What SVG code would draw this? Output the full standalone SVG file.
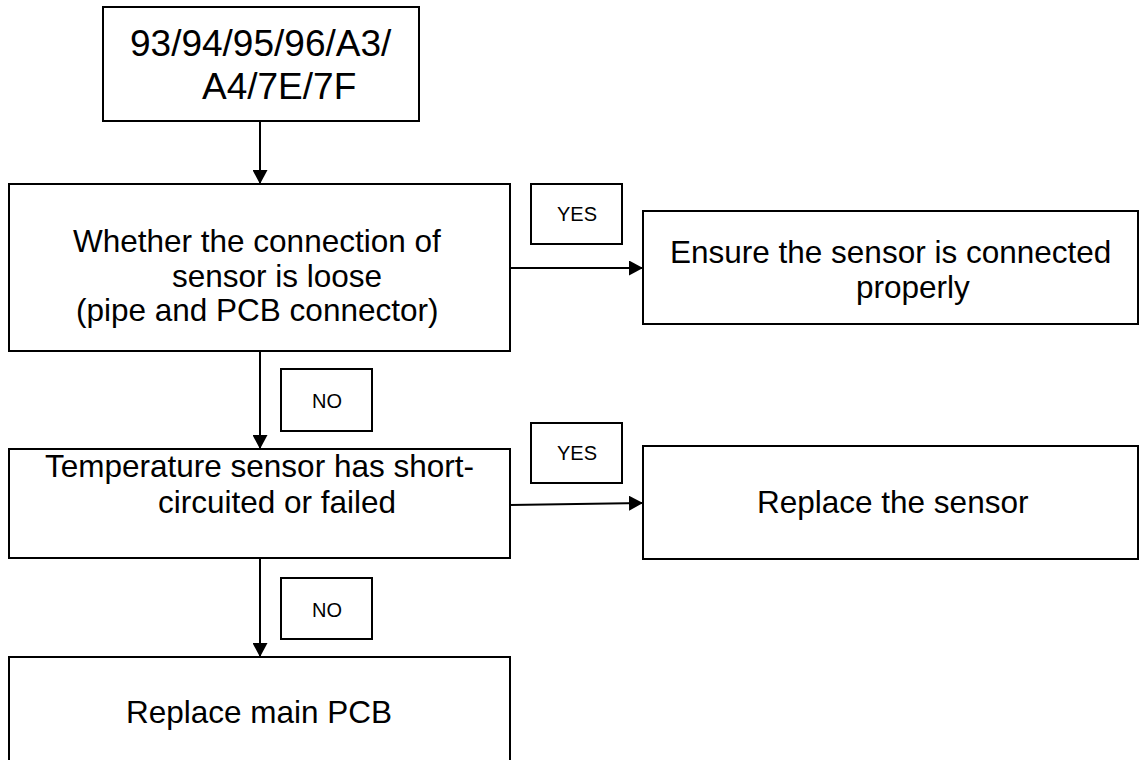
<svg xmlns="http://www.w3.org/2000/svg" width="1139" height="760" viewBox="0 0 1139 760">
<defs>
<style>
.box{fill:#fff;stroke:#000;stroke-width:2}
.t{font-family:"Liberation Sans",Arial,sans-serif;fill:#000}
.big{font-size:37px}
.body{font-size:31.5px}
.lbl{font-size:20px;text-anchor:middle}
.con{stroke:#000;stroke-width:2;fill:none}
</style>
<marker id="arr" markerUnits="userSpaceOnUse" markerWidth="15" markerHeight="15" refX="14" refY="7.5" orient="auto">
<path d="M0,0 L14,7.5 L0,15 Z" fill="#000"/>
</marker>
</defs>
<rect width="1139" height="760" fill="#fff"/>
<g id="connectors">
<line class="con" x1="260" y1="121" x2="260" y2="184" marker-end="url(#arr)"/>
<line class="con" x1="510" y1="268" x2="643" y2="268" marker-end="url(#arr)"/>
<line class="con" x1="260" y1="351" x2="260" y2="449" marker-end="url(#arr)"/>
<line class="con" x1="510" y1="505" x2="643" y2="503" marker-end="url(#arr)"/>
<line class="con" x1="260" y1="558" x2="260" y2="657" marker-end="url(#arr)"/>
</g>
<g id="start">
<rect class="box" x="103" y="7" width="316" height="114"/>
<text class="t big" x="130" y="56">93/94/95/96/A3/</text>
<text class="t big" x="202" y="99">A4/7E/7F</text>
</g>
<g id="check-connection">
<rect class="box" x="9" y="184" width="501" height="167"/>
<text class="t body" x="73" y="252">Whether the connection of</text>
<text class="t body" x="172" y="287">sensor is loose</text>
<text class="t body" x="76" y="321">(pipe and PCB connector)</text>
</g>
<g id="yes1">
<rect class="box" x="531" y="184" width="91" height="60"/>
<text class="t lbl" x="577" y="221">YES</text>
</g>
<g id="ensure-connected">
<rect class="box" x="643" y="211" width="495" height="113"/>
<text class="t body" x="670" y="263">Ensure the sensor is connected</text>
<text class="t body" x="856" y="298">properly</text>
</g>
<g id="no1">
<rect class="box" x="281" y="369" width="91" height="62"/>
<text class="t lbl" x="327" y="408">NO</text>
</g>
<g id="check-sensor">
<rect class="box" x="9" y="449" width="501" height="109"/>
<text class="t body" x="45" y="477">Temperature sensor has short-</text>
<text class="t body" x="158" y="513">circuited or failed</text>
</g>
<g id="yes2">
<rect class="box" x="531" y="423" width="91" height="60"/>
<text class="t lbl" x="577" y="460">YES</text>
</g>
<g id="replace-sensor">
<rect class="box" x="643" y="446" width="495" height="113"/>
<text class="t body" x="757" y="513">Replace the sensor</text>
</g>
<g id="no2">
<rect class="box" x="281" y="578" width="91" height="61"/>
<text class="t lbl" x="327" y="617">NO</text>
</g>
<g id="replace-pcb">
<rect class="box" x="9" y="657" width="501" height="120"/>
<text class="t body" x="126" y="723">Replace main PCB</text>
</g>
</svg>
